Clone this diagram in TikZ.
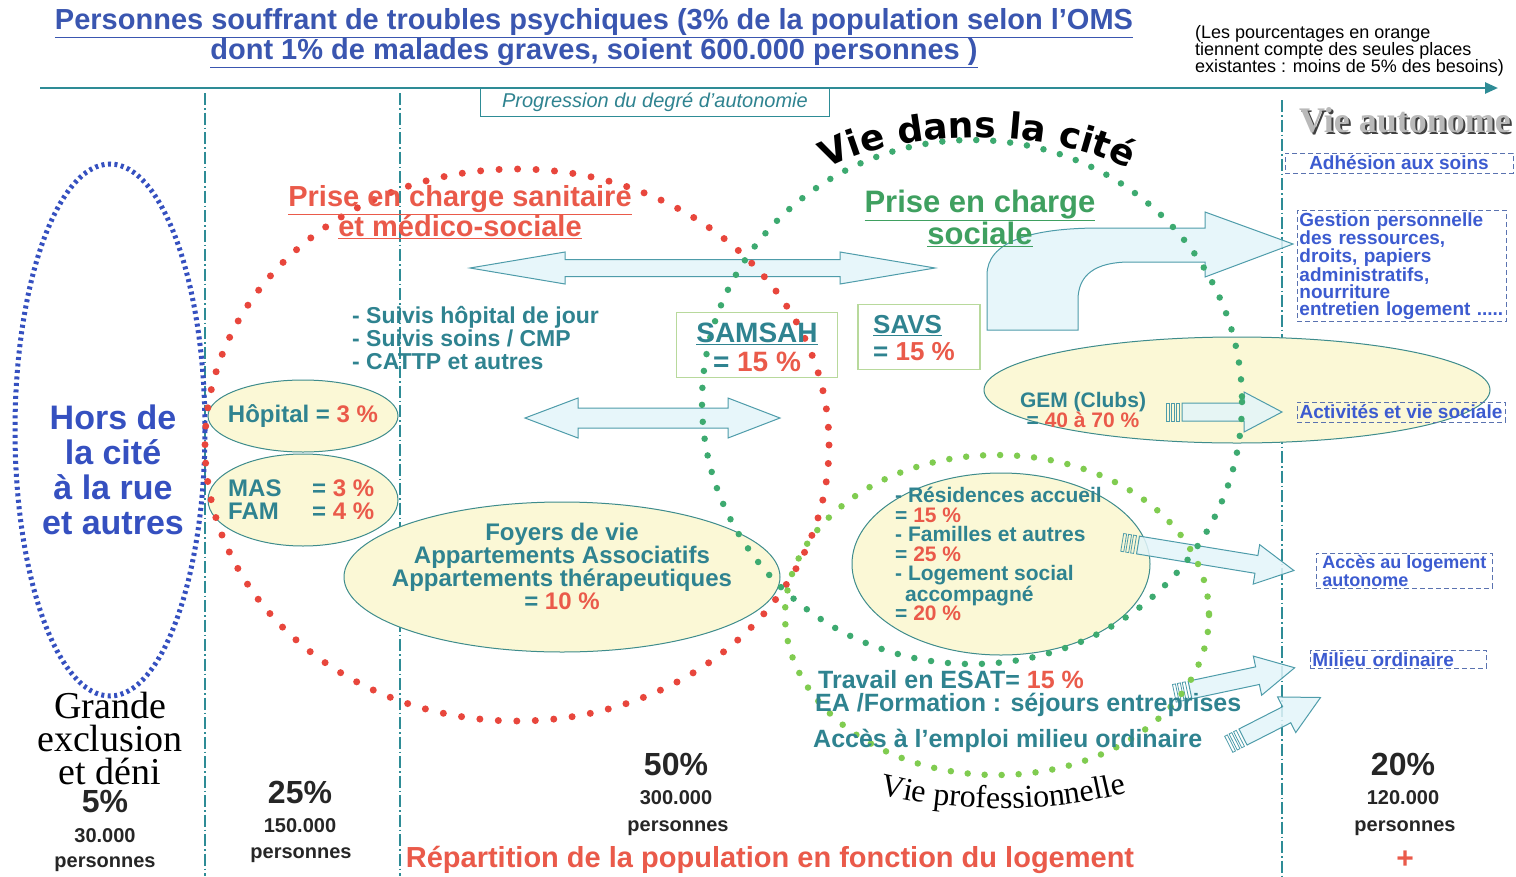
\documentclass[tikz,border=0pt]{standalone}
\usepackage{fontspec}
\setmainfont{Liberation Sans}
\newfontfamily\serifcity{Liberation Serif}
\newfontfamily\heavycity{DejaVu Sans}
\usetikzlibrary{arrows.meta}
\usetikzlibrary{decorations.text}

\definecolor{titleblue}{HTML}{3A56B0}
\definecolor{tealline}{HTML}{2E8C96}
\definecolor{tealtext}{HTML}{2F8390}
\definecolor{redtxt}{HTML}{EA5A4A}
\definecolor{reddot}{HTML}{E8463C}
\definecolor{greentext}{HTML}{3FA060}
\definecolor{greendot}{HTML}{3DAA70}
\definecolor{lightgreendot}{HTML}{80CC50}
\definecolor{bluedot}{HTML}{3550C0}
\definecolor{ellfill}{HTML}{FBF8D6}
\definecolor{ellline}{HTML}{3E8C8C}
\definecolor{arrowfill}{HTML}{E3F5FA}
\definecolor{arrowline}{HTML}{4E9CAA}
\definecolor{boxblue}{HTML}{3C5BD0}
\definecolor{boxline}{HTML}{5A72B0}
\definecolor{boxgreen}{HTML}{B8D99C}

\newcommand{\fs}[2]{\fontsize{#1}{#2}\selectfont}
\newcommand{\pct}[1]{\textcolor{redtxt}{#1}}

\tikzset{
  sepline/.style={draw=tealline, line width=1.1pt, dash pattern=on 12pt off 3pt on 1.5pt off 3pt},
  dotred/.style={draw=reddot, line width=7pt, line cap=round, dash pattern=on 0pt off 18.5pt},
  dotgreen/.style={draw=greendot, line width=6.5pt, line cap=round, dash pattern=on 0pt off 17pt},
  dotlight/.style={draw=lightgreendot, line width=6.5pt, line cap=round, dash pattern=on 0pt off 17pt},
  dotblue/.style={draw=bluedot, line width=5pt, dash pattern=on 3pt off 3.5pt},
  yell/.style={draw=ellline, fill=ellfill, line width=1pt},
  hollow/.style={draw=arrowline, fill=arrowfill, fill opacity=0.85, line width=1pt, line join=miter},
  dashbox/.style={draw=boxline, dash pattern=on 5pt off 3pt, line width=0.9pt, text=boxblue,
                  font=\fs{19}{17.4}\bfseries, inner sep=2pt},
  tealtxt/.style={text=tealtext, font=\fs{23}{23}\bfseries},
  greenbox/.style={draw=boxgreen, line width=1.2pt, inner sep=0pt},
  popnum/.style={font=\fs{32}{32}\bfseries, text=black!85},
  popsub/.style={font=\fs{20}{20}\bfseries, text=black!85},
}

% hollow arrow with a striped tail: name, tail, angle, length
\newcommand{\striparrow}[4]{%
  \begin{scope}[shift={#2}, rotate=#3]
    \coordinate (#1) at (0,0);
    \draw[hollow] (0,9) -- ({#4-38},9) -- ({#4-38},20) -- (#4,0)
      -- ({#4-38},-20) -- ({#4-38},-9) -- (0,-9) -- cycle;
    \foreach \k in {1,2,3}
      \draw[arrowline, line width=0.8pt] ({-5*\k-1},-9) rectangle ({-5*\k+2},9);
  \end{scope}}

\begin{document}
\begin{tikzpicture}[x=1pt, y=-1pt]
\fill[white] (0,0) rectangle (1516,876);
\useasboundingbox (0,0) rectangle (1516,876);

% title and note
\node[text=titleblue, font=\fs{29}{28}\bfseries, align=center] (title) at (594,38)
  {\underline{Personnes souffrant de troubles psychiques (3\% de la population selon l’OMS}\\
   \underline{dont 1\% de malades graves, soient 600.000 personnes )}};
\node[font=\fs{18}{17.3}, align=left, anchor=north west, inner sep=0pt] (note) at (1195,25)
  {(Les pourcentages en orange\\tiennent compte des seules places\\existantes : moins de 5\% des besoins)};

% axis of autonomy
\coordinate (axisL) at (40,88);
\coordinate (axisR) at (1498,88);
\draw[draw=tealline, line width=2.5pt, -{Triangle[length=13pt,width=11pt]}] (axisL) -- (axisR);
\node[draw=tealline, line width=1pt, minimum width=349, minimum height=28, inner sep=0pt,
      text=tealtext, font=\fs{20}{20}\itshape] (prog) at (655,102) {Progression du degré d'autonomie};

% separators
\foreach \sx/\sy in {205/93, 400/93, 1282/100}
  \draw[sepline] (\sx,\sy) -- (\sx,876);

% yellow places
\draw[yell] (303,416) ellipse [x radius=95, y radius=36];
\draw[yell] (303,500) ellipse [x radius=95, y radius=46];
\draw[yell] (562,577) ellipse [x radius=218, y radius=75];
\draw[yell] (1237,390) ellipse [x radius=253, y radius=53];
\draw[yell] (1001,564) ellipse [x radius=149, y radius=91];

% services boxes
\node[greenbox, minimum width=161, minimum height=65] (samsahbox) at (757,345) {};
\node[greenbox, minimum width=122, minimum height=65] (savsbox) at (919,337) {};

% hollow arrows
\draw[hollow] (470,268) -- (565,252) -- (565,259.5) -- (840,259.5) -- (840,252) -- (935,268)
  -- (840,284) -- (840,276.5) -- (565,276.5) -- (565,284) -- cycle;
\draw[hollow] (525,418) -- (578,398) -- (578,408) -- (728,408) -- (728,398) -- (780,418)
  -- (728,438) -- (728,428) -- (578,428) -- (578,438) -- cycle;
\draw[hollow] (987,330) -- (987,275) .. controls (987,242) and (1030,228) .. (1100,228)
  -- (1205,228) -- (1205,212) -- (1293,244) -- (1205,277) -- (1205,262) -- (1130,262)
  .. controls (1095,262) and (1078,275) .. (1078,300) -- (1078,330) -- cycle;
\striparrow{gemarrow}{(1182,412)}{0}{100}
\striparrow{residarrow}{(1138,545)}{-9.3}{158}
\striparrow{milieuarrow}{(1190,690)}{12}{107}
\striparrow{emploiarrow}{(1243,737)}{27}{87}

% dotted domains
\draw[dotblue] (110,430) ellipse [x radius=95, y radius=266];
\draw[dotred] (517,445) ellipse [x radius=312, y radius=276];
\draw[dotgreen] (972,402) ellipse [x radius=270, y radius=262];
\draw[dotlight] (997,615) ellipse [x radius=212, y radius=160];

% curved titles
\path[decorate, decoration={text along path, text align=center,
    text={|\heavycity\fs{36}{36}\bfseries|Vie dans la cité}}]
  (805,185) .. controls (870,122) and (1080,122) .. (1150,185);
\path[decorate, decoration={text along path, text align=center,
    text={|\serifcity\fs{32}{32}|Vie professionnelle}}]
  (872,792) .. controls (950,814) and (1060,814) .. (1134,790);
\node[text=black!75, font=\serifcity\fs{36}{36}\bfseries] (autoshadow) at (1407,122) {Vie autonome};
\node[text=gray!55, font=\serifcity\fs{36}{36}\bfseries] (autonome) at (1405,120) {Vie autonome};

% left column
\node[text=bluedot, font=\fs{34}{35}\bfseries, align=center] (hors) at (113,470)
  {Hors de\\la cité\\à la rue\\et autres};
\node[font=\serifcity\fs{38}{33}, align=center] (grande) at (110,738)
  {Grande\\exclusion\\et déni};

% domain titles
\node[text=redtxt, font=\fs{29}{30}\bfseries, align=center] (sanitaire) at (460,212)
  {\underline{Prise en charge sanitaire}\\\underline{et médico-sociale}};
\node[text=greentext, font=\fs{31}{31}\bfseries, align=center] (sociale) at (980,218)
  {\underline{Prise en charge}\\\underline{sociale}};

% care texts
\node[tealtxt, align=left, anchor=north west, inner sep=0pt] (suivis) at (352,306)
  {- Suivis hôpital de jour\\- Suivis soins / CMP\\- CATTP et autres};
\node[tealtxt, align=center, font=\fs{28}{29}\bfseries] (samsah) at (757,347)
  {\underline{SAMSAH}\\= \pct{15 \%}};
\node[tealtxt, align=left, font=\fs{26}{27}\bfseries, anchor=west, inner sep=0pt] (savs) at (873,338)
  {\underline{SAVS}\\= \pct{15 \%}};
\node[tealtxt, font=\fs{24}{24}\bfseries] (hopital) at (303,416) {Hôpital = \pct{3 \%}};
\node[tealtxt, font=\fs{24}{23}\bfseries, align=left, anchor=west, inner sep=0pt] (masfam) at (228,500)
  {\makebox[84pt][l]{MAS}= \pct{3 \%}\\\makebox[84pt][l]{FAM}= \pct{4 \%}};
\node[tealtxt, font=\fs{24}{23}\bfseries, align=center] (foyers) at (562,566)
  {Foyers de vie\\Appartements Associatifs\\Appartements thérapeutiques\\= \pct{10 \%}};
\node[tealtxt, font=\fs{21}{20}\bfseries, align=center] (gem) at (1083,410)
  {GEM (Clubs)\\= \pct{40 à 70 \%}};
\node[tealtxt, font=\fs{21}{19.5}\bfseries, align=left, anchor=north west, inner sep=0pt] (resid) at (895,487)
  {- Résidences accueil\\= \pct{15 \%}\\- Familles et autres\\= \pct{25 \%}\\- Logement social\\
   \hspace*{10pt}accompagné\\= \pct{20 \%}};
\node[tealtxt, font=\fs{25}{25}\bfseries, anchor=west, inner sep=0pt] (esat) at (818,680)
  {Travail en ESAT= \pct{15 \%}};
\node[tealtxt, font=\fs{25}{25}\bfseries, anchor=west, inner sep=0pt] (forma) at (815,705)
  {EA /Formation : séjours entreprises};
\node[tealtxt, font=\fs{25}{25}\bfseries, anchor=west, inner sep=0pt] (emploi) at (813,741)
  {Accès à l'emploi milieu ordinaire};

% autonomy boxes
\node[dashbox, minimum width=228, minimum height=20] (adhesion) at (1399,163) {Adhésion aux soins};
\node[dashbox, anchor=north west, text width=205, align=left] (gestion) at (1297,210)
  {Gestion personnelle\\des ressources,\\droits, papiers\\administratifs,\\ nourriture\\entretien logement .....};
\node[dashbox, minimum width=208, minimum height=20] (activites) at (1401,412) {Activités et vie sociale};
\node[dashbox, font=\fs{18}{17.4}\bfseries, anchor=north west, inner sep=1.5pt, align=left,
      minimum width=176, minimum height=35] (logement) at (1316,553)
  {Accès au logement\\autonome};
\node[dashbox, anchor=north west, text width=172, align=left] (milieu) at (1310,650) {Milieu ordinaire};

% population figures
\node[popnum] (p5) at (105,802) {5\%};
\node[popsub] (n5) at (105,836) {30.000};
\node[popsub] (q5) at (105,864) {personnes};
\node[popnum] (p25) at (300,792) {25\%};
\node[popsub] (n25) at (300,826) {150.000};
\node[popsub] (q25) at (301,855) {personnes};
\node[popnum] (p50) at (676,764) {50\%};
\node[popsub] (n50) at (676,798) {300.000};
\node[popsub] (q50) at (678,828) {personnes};
\node[popnum] (p20) at (1403,764) {20\%};
\node[popsub] (n20) at (1403,798) {120.000};
\node[popsub] (q20) at (1405,828) {personnes};
\node[text=redtxt, font=\fs{30}{30}\bfseries] (plus) at (1405,860) {+};
\node[text=redtxt, font=\fs{29}{29}\bfseries] (repart) at (770,860)
  {Répartition de la population en fonction du logement};
\end{tikzpicture}
\end{document}
